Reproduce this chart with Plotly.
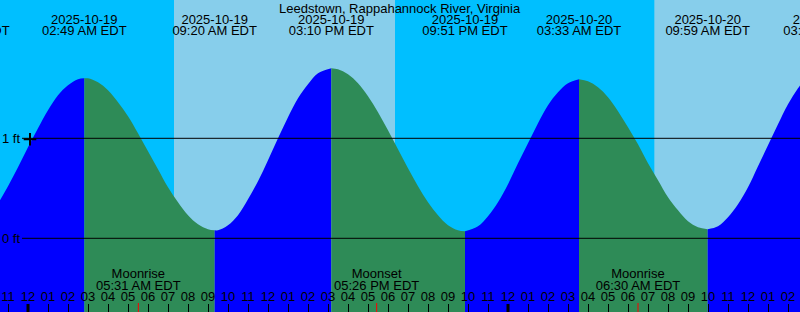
import plotly.graph_objects as go
from datetime import datetime

# ---------------- data ----------------
station = "Leedstown, Rappahannock River, Virginia"

tide_times = [
    "2025-10-18 22:00", "2025-10-18 22:30", "2025-10-18 23:00", "2025-10-18 23:30",
    "2025-10-19 00:00", "2025-10-19 00:30", "2025-10-19 01:00", "2025-10-19 01:30",
    "2025-10-19 02:00", "2025-10-19 02:30", "2025-10-19 02:49",
    "2025-10-19 03:00", "2025-10-19 03:30", "2025-10-19 04:00", "2025-10-19 04:30",
    "2025-10-19 05:00", "2025-10-19 05:30", "2025-10-19 06:00", "2025-10-19 06:30",
    "2025-10-19 07:00", "2025-10-19 07:30", "2025-10-19 08:00", "2025-10-19 08:30",
    "2025-10-19 09:00", "2025-10-19 09:20",
    "2025-10-19 09:30", "2025-10-19 10:00", "2025-10-19 10:30", "2025-10-19 11:00",
    "2025-10-19 11:30", "2025-10-19 12:00", "2025-10-19 12:30", "2025-10-19 13:00",
    "2025-10-19 13:30", "2025-10-19 14:00", "2025-10-19 14:30", "2025-10-19 15:10",
    "2025-10-19 15:30", "2025-10-19 16:00", "2025-10-19 16:30", "2025-10-19 17:00",
    "2025-10-19 17:30", "2025-10-19 18:00", "2025-10-19 18:30", "2025-10-19 19:00",
    "2025-10-19 19:30", "2025-10-19 20:00", "2025-10-19 20:30", "2025-10-19 21:00",
    "2025-10-19 21:30", "2025-10-19 21:51",
    "2025-10-19 22:30", "2025-10-19 23:00", "2025-10-19 23:30", "2025-10-20 00:00",
    "2025-10-20 00:30", "2025-10-20 01:00", "2025-10-20 01:30", "2025-10-20 02:00",
    "2025-10-20 02:30", "2025-10-20 03:00", "2025-10-20 03:33",
    "2025-10-20 04:00", "2025-10-20 04:30", "2025-10-20 05:00", "2025-10-20 05:30",
    "2025-10-20 06:00", "2025-10-20 06:30", "2025-10-20 07:00", "2025-10-20 07:30",
    "2025-10-20 08:00", "2025-10-20 08:30", "2025-10-20 09:00", "2025-10-20 09:30",
    "2025-10-20 09:59",
    "2025-10-20 10:30", "2025-10-20 11:00", "2025-10-20 11:30", "2025-10-20 12:00",
    "2025-10-20 12:30", "2025-10-20 13:00", "2025-10-20 13:30", "2025-10-20 14:00",
    "2025-10-20 14:30", "2025-10-20 15:00", "2025-10-20 15:30", "2025-10-20 15:54",
]
tide_heights_ft = [
    0.22, 0.35, 0.52, 0.71,
    0.91, 1.10, 1.28, 1.43,
    1.53, 1.59, 1.60,
    1.60, 1.56, 1.48, 1.36,
    1.22, 1.05, 0.87, 0.69,
    0.51, 0.36, 0.23, 0.14,
    0.09, 0.08,
    0.08, 0.13, 0.23, 0.39,
    0.57, 0.78, 1.00, 1.21,
    1.40, 1.54, 1.65, 1.70,
    1.69, 1.64, 1.55, 1.42,
    1.26, 1.08, 0.89, 0.70,
    0.52, 0.36, 0.23, 0.13,
    0.08, 0.07,
    0.12, 0.22, 0.36, 0.54,
    0.75, 0.95, 1.15, 1.33,
    1.46, 1.55, 1.59,
    1.57, 1.51, 1.41, 1.27,
    1.11, 0.94, 0.75, 0.58,
    0.41, 0.28, 0.17, 0.11,
    0.09,
    0.12, 0.21, 0.34, 0.51,
    0.72, 0.93, 1.14, 1.34,
    1.50, 1.63, 1.70, 1.72,
]

extreme_times = ["2025-10-18 20:57", "2025-10-19 02:49", "2025-10-19 09:20",
                 "2025-10-19 15:10", "2025-10-19 21:51", "2025-10-20 03:33",
                 "2025-10-20 09:59", "2025-10-20 15:54"]
extreme_dates = ["2025-10-18", "2025-10-19", "2025-10-19", "2025-10-19",
                 "2025-10-19", "2025-10-20", "2025-10-20", "2025-10-20"]
extreme_clock = ["08:57 PM EDT", "02:49 AM EDT", "09:20 AM EDT", "03:10 PM EDT",
                 "09:51 PM EDT", "03:33 AM EDT", "09:59 AM EDT", "03:54 PM EDT"]

sunrise_times = ["2025-10-19 07:18", "2025-10-20 07:19"]
sunset_times = ["2025-10-19 18:21", "2025-10-20 18:20"]

moon_times = ["2025-10-19 05:31", "2025-10-19 17:26", "2025-10-20 06:30"]
moon_events = ["Moonrise", "Moonset", "Moonrise"]
moon_clock = ["05:31 AM EDT", "05:26 PM EDT", "06:30 AM EDT"]

midnights = ["2025-10-19 00:00", "2025-10-20 00:00"]
ref_levels_ft = [0, 1]
ref_labels = ["0 ft", "1 ft"]
now_time = "2025-10-19 00:06"
now_height_ft = 0.99

x_start, x_end = "2025-10-18 22:36", "2025-10-20 14:36"

# ---------------- styling ----------------
NIGHT = "#00BFFF"
DAY = "#87CEEB"
RISE = "#0000FF"
FALL = "#2E8B57"
FONT = "Liberation Sans"
FS = 13
ZERO_PIX, PX_PER_FT, H = 238.3, 100.0, 312


def ypix(p):
    return (ZERO_PIX - p) / PX_PER_FT


ybot, ytop = ypix(H), ypix(0)
fig = go.Figure()

# tide segments: split at extremes
tt = [datetime.strptime(s, "%Y-%m-%d %H:%M") for s in tide_times]
ext = set(datetime.strptime(s, "%Y-%m-%d %H:%M") for s in extreme_times)
cuts = [0] + [i for i, t in enumerate(tt) if t in ext and 0 < i < len(tt) - 1] + [len(tt) - 1]
for a, b in zip(cuts[:-1], cuts[1:]):
    xs = tide_times[a:b + 1]
    ys = tide_heights_ft[a:b + 1]
    color = RISE if ys[-1] > ys[0] else FALL
    fig.add_trace(go.Scatter(x=[xs[0], xs[-1]], y=[ybot - 0.2, ybot - 0.2], mode="lines",
                             line=dict(width=0), hoverinfo="skip"))
    fig.add_trace(go.Scatter(x=xs, y=ys, mode="lines", line=dict(width=0, shape="spline", color=color),
                             fill="tonexty", fillcolor=color, hoverinfo="skip"))

txtfont = dict(family=FONT, size=FS, color="black")
# top labels for high/low
fig.add_trace(go.Scatter(x=extreme_times, y=[ypix(20.3)] * len(extreme_times), mode="text",
                         text=extreme_dates, textposition="middle center", textfont=txtfont))
fig.add_trace(go.Scatter(x=extreme_times, y=[ypix(32.0)] * len(extreme_times), mode="text",
                         text=extreme_clock, textposition="middle center", textfont=txtfont))
# moon labels
fig.add_trace(go.Scatter(x=moon_times, y=[ypix(275)] * len(moon_times), mode="text",
                         text=moon_events, textposition="middle center", textfont=txtfont))
fig.add_trace(go.Scatter(x=moon_times, y=[ypix(286.3)] * len(moon_times), mode="text",
                         text=moon_clock, textposition="middle center", textfont=txtfont))
# marker
fig.add_trace(go.Scatter(x=[now_time], y=[now_height_ft], mode="markers",
                         marker=dict(symbol="cross-thin", size=9, line=dict(width=2, color="black"))))

shapes = []
for sr, ss in zip(sunrise_times, sunset_times):
    shapes.append(dict(type="rect", xref="x", yref="paper", x0=sr, x1=ss, y0=0, y1=1,
                       fillcolor=DAY, line=dict(width=0), layer="below"))
for lv in ref_levels_ft:
    shapes.append(dict(type="line", xref="paper", yref="y", x0=22 / 800, x1=1, y0=lv, y1=lv,
                       line=dict(color="black", width=1), layer="above"))
for m in midnights:
    shapes.append(dict(type="line", xref="x", yref="paper", x0=m, x1=m, y0=0, y1=8 / H,
                       line=dict(color="black", width=3), layer="above"))
for m in moon_times:
    shapes.append(dict(type="line", xref="x", yref="paper", x0=m, x1=m, y0=0, y1=9 / H,
                       line=dict(color="red", width=1), layer="above"))

annotations = [dict(text=station, xref="paper", yref="paper", x=0.5, y=1, yanchor="top",
                    yshift=1, showarrow=False, font=txtfont)]
for lv, lab in zip(ref_levels_ft, ref_labels):
    annotations.append(dict(text=lab, xref="paper", yref="y", x=0, y=lv, xanchor="left",
                            yanchor="middle", showarrow=False, font=txtfont))

fig.update_layout(
    width=800, height=312, margin=dict(l=0, r=0, t=0, b=0),
    plot_bgcolor=NIGHT, paper_bgcolor=NIGHT, showlegend=False,
    shapes=shapes, annotations=annotations,
    xaxis=dict(type="date", range=[x_start, x_end], showgrid=False, zeroline=False,
               showline=False, ticks="inside", ticklen=8, tickwidth=1, tickcolor="black",
               dtick=3600000, tick0="2025-10-19 00:00", tickformat="%I",
               ticklabelposition="inside", tickfont=txtfont),
    yaxis=dict(range=[ybot, ytop], visible=False, fixedrange=True),
)

fig.write_html("out.html")
